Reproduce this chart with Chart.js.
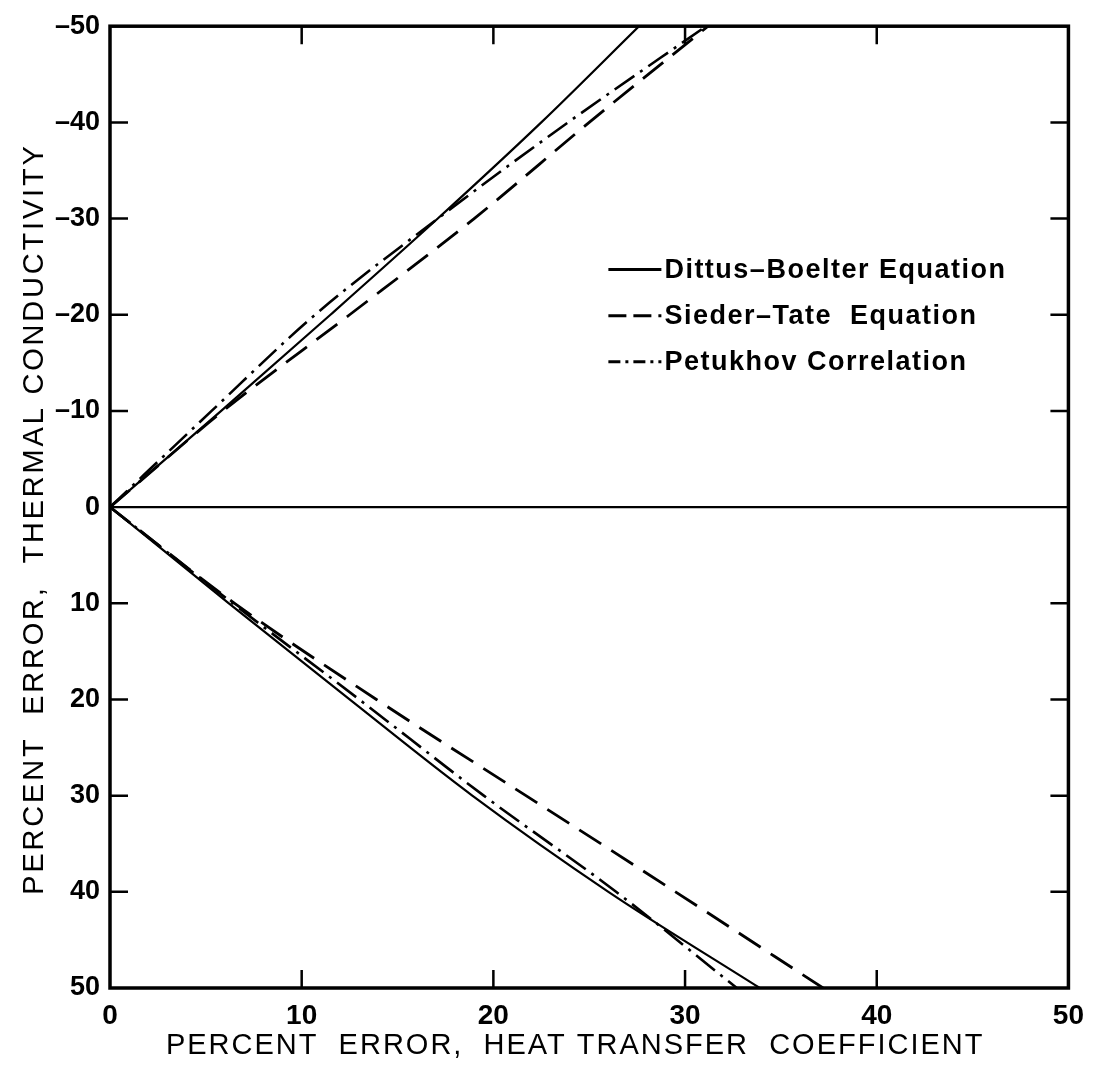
<!DOCTYPE html>
<html>
<head>
<meta charset="utf-8">
<script src="https://cdn.jsdelivr.net/npm/chart.js@4.4.1/dist/chart.umd.min.js"></script>
<style>
  html, body { margin: 0; padding: 0; background: #fff; }
  #wrap { width: 1095px; height: 1072px; position: relative; }
</style>
</head>
<body>
<div id="wrap"><canvas id="c" width="1095" height="1072"></canvas></div>
<script>
// ---- DATA ----
// y levels (percent error, thermal conductivity); negative = upper branch
const upperLevels = [0, -10, -20, -30, -40, -50];
const lowerLevels = [0, 10, 20, 30, 40, 50];
// x (percent error, heat transfer coefficient) at each level
const dittusUpperX   = [0, 5.8, 11.5, 17.1, 22.5, 27.6];
const siederUpperX   = [0, 5.9, 12.5, 19.0, 25.0, 31.2];
const petukhovUpperX = [0, 5.3, 10.7, 17.1, 23.9, 31.1];
const dittusLowerX   = [0, 6.2, 12.5, 18.9, 26.0, 33.9];
const siederLowerX   = [0, 6.5, 13.9, 21.7, 29.5, 37.2];
const petukhovLowerX = [0, 6.4, 13.0, 19.5, 26.4, 32.7];
const xTicks = [0, 10, 20, 30, 40, 50];
const yTicks = [-50, -40, -30, -20, -10, 0, 10, 20, 30, 40, 50];
const seriesNames = ['Dittus\u2013Boelter Equation', 'Sieder\u2013Tate  Equation', 'Petukhov Correlation'];
const xTitle = 'PERCENT  ERROR,  HEAT TRANSFER  COEFFICIENT';
const yTitle = 'PERCENT  ERROR,  THERMAL CONDUCTIVITY';

function pts(xs, ys) { return xs.map((x, i) => ({ x: x, y: ys[i] })); }

const styles = [
  { width: 2.2, dash: [] },
  { width: 2.8, dash: [26, 12] },
  { width: 2.6, dash: [24, 7, 3, 7] }
];

function ds(name, xs, ys, s) {
  return {
    label: name, data: pts(xs, ys), showLine: true, pointRadius: 0,
    borderColor: '#000', borderWidth: s.width, borderDash: s.dash,
    tension: 0.35, cubicInterpolationMode: 'monotone', fill: false
  };
}

const datasets = [
  ds(seriesNames[0], dittusUpperX, upperLevels, styles[0]),
  ds(seriesNames[0], dittusLowerX, lowerLevels, styles[0]),
  ds(seriesNames[1], siederUpperX, upperLevels, styles[1]),
  ds(seriesNames[1], siederLowerX, lowerLevels, styles[1]),
  ds(seriesNames[2], petukhovUpperX, upperLevels, styles[2]),
  ds(seriesNames[2], petukhovLowerX, lowerLevels, styles[2])
];

const framePlugin = {
  id: 'frame',
  afterDatasetsDraw(chart) {
    const { ctx, chartArea: a, scales } = chart;
    const xs = scales.x, ys = scales.y;
    ctx.save();
    ctx.strokeStyle = '#000';
    ctx.lineCap = 'butt';
    // zero line
    ctx.lineWidth = 2.3;
    const y0 = ys.getPixelForValue(0);
    ctx.beginPath(); ctx.moveTo(a.left, y0); ctx.lineTo(a.right, y0); ctx.stroke();
    // inner ticks
    const tl = 18;
    ctx.lineWidth = 2.5;
    xTicks.forEach(v => {
      if (v === xTicks[0] || v === xTicks[xTicks.length - 1]) return;
      const px = xs.getPixelForValue(v);
      ctx.beginPath();
      ctx.moveTo(px, a.bottom); ctx.lineTo(px, a.bottom - tl);
      ctx.moveTo(px, a.top); ctx.lineTo(px, a.top + tl);
      ctx.stroke();
    });
    yTicks.forEach(v => {
      if (v === 0 || v === yTicks[0] || v === yTicks[yTicks.length - 1]) return;
      const py = ys.getPixelForValue(v);
      ctx.beginPath();
      ctx.moveTo(a.left, py); ctx.lineTo(a.left + tl, py);
      ctx.moveTo(a.right, py); ctx.lineTo(a.right - tl, py);
      ctx.stroke();
    });
    // frame
    ctx.lineWidth = 3.5;
    ctx.strokeRect(a.left, a.top, a.right - a.left, a.bottom - a.top);

    // legend inside the plot
    const lx = xs.getPixelForValue(26.0);
    const sampleW = 53;
    const rowsY = [-24.7, -19.9, -15.1];
    ctx.font = 'bold 27px "Liberation Sans", Arial, sans-serif';
    ctx.textBaseline = 'middle';
    ctx.fillStyle = '#000';
    const legendDash = [[], [18, 7], [12, 5, 3, 5]];
    rowsY.forEach((yv, i) => {
      const py = ys.getPixelForValue(yv);
      ctx.lineWidth = 3;
      ctx.setLineDash(legendDash[i]);
      ctx.beginPath(); ctx.moveTo(lx, py); ctx.lineTo(lx + sampleW, py); ctx.stroke();
      ctx.setLineDash([]);
      ctx.letterSpacing = '1.5px';
      ctx.fillText(seriesNames[i], lx + sampleW + 3, py + 1);
      ctx.letterSpacing = '0px';
    });

    // axis titles (letter-spaced)
    ctx.font = '29px "Liberation Sans", Arial, sans-serif';
    ctx.textAlign = 'center';
    ctx.textBaseline = 'middle';
    ctx.letterSpacing = '2px';
    ctx.fillText(xTitle, (a.left + a.right) / 2 - 14, 1046);
    ctx.save();
    ctx.translate(35, (a.top + a.bottom) / 2 + 12);
    ctx.rotate(-Math.PI / 2);
    ctx.letterSpacing = '2.8px';
    ctx.fillText(yTitle, 0, 0);
    ctx.restore();
    ctx.restore();
  }
};

new Chart(document.getElementById('c'), {
  type: 'scatter',
  data: { datasets: datasets },
  options: {
    responsive: false,
    animation: false,
    layout: { padding: { left: 8, right: 19, top: 20, bottom: 0 } },
    plugins: { legend: { display: false }, tooltip: { enabled: false } },
    scales: {
      x: {
        type: 'linear', min: 0, max: 50,
        afterBuildTicks: s => { s.ticks = xTicks.map(v => ({ value: v })); },
        afterFit: s => { s.height = 84; },
        grid: { display: false, drawTicks: false },
        border: { display: false },
        ticks: {
          padding: 11, color: '#000',
          font: { family: '"Liberation Sans", Arial, sans-serif', size: 28, weight: 'bold' }
        },
        title: { display: false }
      },
      y: {
        type: 'linear', min: -50, max: 50, reverse: true,
        afterBuildTicks: s => { s.ticks = yTicks.map(v => ({ value: v })); },
        afterFit: s => { s.width = 102; },
        grid: { display: false, drawTicks: false },
        border: { display: false },
        ticks: {
          padding: 10, color: '#000',
          font: { family: '"Liberation Sans", Arial, sans-serif', size: 27, weight: 'bold' },
          callback: v => (v < 0 ? '\u2013' + Math.abs(v) : String(v))
        },
        title: { display: false }
      }
    }
  },
  plugins: [framePlugin]
});
</script>
</body>
</html>
